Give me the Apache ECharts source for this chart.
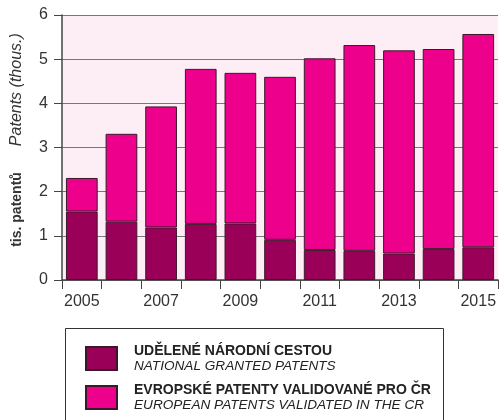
<!DOCTYPE html>
<html>
<head>
<meta charset="utf-8">
<script src="https://cdn.jsdelivr.net/npm/echarts@6/dist/echarts.min.js"></script>
<style>
  html, body { margin: 0; padding: 0; background: #fff; }
  #chart { width: 499px; height: 420px; }
</style>
</head>
<body>
<div id="chart"></div>
<script>
// roky / years
const years = ['2005', '2006', '2007', '2008', '2009', '2010', '2011', '2012', '2013', '2014', '2015'];
// udělené národní cestou (tis.)
const nationalGranted = [1.55, 1.32, 1.19, 1.27, 1.28, 0.91, 0.68, 0.66, 0.60, 0.70, 0.74];
// evropské patenty validované pro ČR (tis.)
const europeanValidated = [0.76, 1.99, 2.74, 3.51, 3.41, 3.69, 4.34, 4.66, 4.60, 4.53, 4.83];
const yTicks = [0, 1, 2, 3, 4, 5, 6];

const legendNames = {
  national: ['UDĚLENÉ NÁRODNÍ CESTOU', 'NATIONAL GRANTED PATENTS'],
  european: ['EVROPSKÉ PATENTY VALIDOVANÉ PRO ČR', 'EUROPEAN PATENTS VALIDATED IN THE CR']
};

const chart = echarts.init(document.getElementById('chart'));
const font = 'Liberation Sans, Arial, sans-serif';

// one legend per item, stacked under each other
function legendItem(name, top) {
  return {
    left: 80,
    top: top,
    itemWidth: 31,
    itemHeight: 23,
    icon: 'rect',
    data: [name],
    formatter(n) {
      const t = legendNames[n];
      return '{b|' + t[0] + '}\n{i|' + t[1] + '}';
    },
    textStyle: {
      padding: [0, 0, 0, 12],
      rich: {
        b: { fontFamily: font, fontWeight: 'bold', fontSize: 14, color: '#222', lineHeight: 15 },
        i: { fontFamily: font, fontStyle: 'italic', fontSize: 13.6, color: '#222', lineHeight: 15 }
      }
    }
  };
}

const option = {
  animation: false,
  textStyle: { fontFamily: font },
  grid: {
    left: 62, right: 0, top: 15, bottom: 140,
    show: true,
    backgroundColor: '#fdedf4',
    borderWidth: 0
  },
  legend: [legendItem('national', 339), legendItem('european', 378)],
  graphic: [
    {
      type: 'rect',
      shape: { x: 65.5, y: 328.5, width: 378, height: 120 },
      style: { fill: 'none', stroke: '#333', lineWidth: 1 }
    },
    {
      type: 'text',
      x: 17,
      y: 140,
      rotation: Math.PI / 2,
      style: {
        text: '{b|tis. patentů}{g|}{i|Patents (thous.)}',
        align: 'center',
        verticalAlign: 'middle',
        rich: {
          b: { fontFamily: font, fontWeight: 'bold', fontSize: 14, fill: '#333' },
          g: { width: 26 },
          i: { fontFamily: font, fontStyle: 'italic', fontSize: 16, fill: '#333' }
        }
      }
    }
  ],
  xAxis: {
    type: 'category',
    data: years,
    boundaryGap: true,
    axisLine: { lineStyle: { color: '#444', width: 1.5 } },
    axisTick: { show: true, interval: 0, length: 9, lineStyle: { color: '#444', width: 1 } },
    axisLabel: {
      interval: 1,
      color: '#333',
      fontSize: 16,
      margin: 14,
      fontFamily: font
    }
  },
  yAxis: {
    type: 'value',
    min: yTicks[0],
    max: yTicks[yTicks.length - 1],
    interval: 1,
    axisLine: { show: true, lineStyle: { color: '#444', width: 1.5 } },
    axisTick: { show: true, length: 8, lineStyle: { color: '#444' } },
    axisLabel: { color: '#333', fontSize: 16, margin: 14, fontFamily: font },
    splitLine: { show: true, lineStyle: { color: '#777', width: 1 } }
  },
  series: [
    {
      name: 'national',
      type: 'bar',
      stack: 'total',
      barWidth: '80%',
      data: nationalGranted,
      itemStyle: { color: '#9b0059', borderColor: '#3a1a2a', borderWidth: 1 }
    },
    {
      name: 'european',
      type: 'bar',
      stack: 'total',
      barWidth: '80%',
      data: europeanValidated,
      itemStyle: { color: '#ec008c', borderColor: '#3a1a2a', borderWidth: 1 }
    }
  ]
};

chart.setOption(option);
</script>
</body>
</html>
